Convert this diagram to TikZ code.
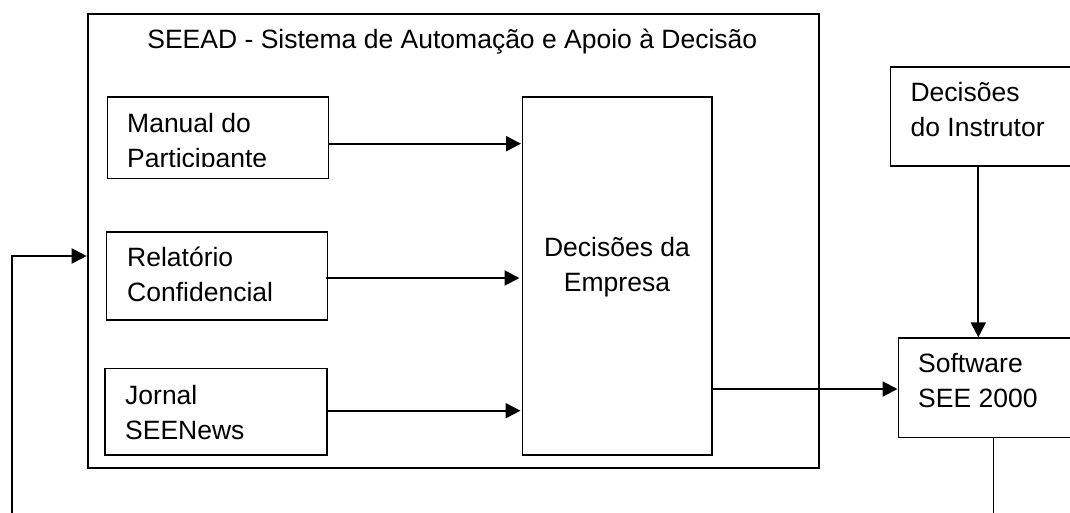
\documentclass[tikz,border=0pt]{standalone}
\usepackage{fontspec}
\setmainfont{Liberation Sans}
\usetikzlibrary{arrows.meta}
\newcommand{\firstline}{\rule{0pt}{20pt}}
\begin{document}
\begin{tikzpicture}[x=1pt,y=-1pt,
 box/.style={draw=black,line width=1.6pt,fill=white,inner sep=0pt,anchor=north west},
 outerbox/.style={box,line width=2pt},
 lbl/.style={font=\fontsize{26.5}{34.8}\selectfont,align=left,anchor=north west,inner sep=0pt},
 arr/.style={draw=black,line width=2.1pt,-{Triangle[length=15pt,width=15pt]}},
 plain/.style={draw=black,line width=1.6pt}]
\useasboundingbox (0,0) rectangle (1070,513);
\node[outerbox,minimum width=731.6pt,minimum height=454pt] (outer) at (86.7,12.7) {};
\node[lbl,anchor=base] (title) at (452.3,48.7) {SEEAD - Sistema de Automação e Apoio à Decisão};
\node[box,minimum width=221pt,minimum height=81.7pt] (manual) at (106.5,96) {};
\node[lbl] (manualt) at (127,112.3) {\firstline Manual do\\Participante};
\fill[white] (109,167.4) rectangle (325,176.4);
\node[box,minimum width=221pt,minimum height=88.3pt] (rel) at (105.5,231) {};
\node[lbl] (relt) at (127,246.7) {\firstline Relatório\\Confidencial};
\node[box,minimum width=221.6pt,minimum height=86.6pt] (jor) at (104.4,367.7) {};
\node[lbl] (jort) at (125,384) {\firstline Jornal\\SEENews};
\node[box,minimum width=189.6pt,minimum height=358.3pt] (emp) at (521.8,96) {};
\node[lbl,align=center,anchor=north] (empt) at (617,236) {\firstline Decisões da\\Empresa};
\node[box,minimum width=200pt,minimum height=99pt] (inst) at (889.6,66) {};
\node[lbl] (instt) at (910.4,81.7) {\firstline Decisões\\do Instrutor};
\node[box,minimum width=200pt,minimum height=99.4pt] (soft) at (897.5,337.3) {};
\node[lbl] (softt) at (918,352.7) {\firstline Software\\SEE 2000};
\coordinate (y1) at (0,143.7);
\coordinate (y2) at (0,278);
\coordinate (y3) at (0,410.7);
\coordinate (y4) at (0,389);
\coordinate (x5) at (978.3,0);
\coordinate (x6) at (993.4,0);
\coordinate (y7) at (0,256);
\coordinate (bottomright) at (993.4,513);
\coordinate (bottomleft) at (11.6,513);
\coordinate (leftturn) at (11.6,256);
\draw[arr] (manual.east |- y1) -- ([xshift=-0.8pt]emp.west |- y1);
\draw[arr] ([xshift=-2.6pt]rel.east |- y2) -- ([xshift=-2.3pt]emp.west |- y2);
\draw[arr] (jor.east |- y3) -- ([xshift=-1.3pt]emp.west |- y3);
\draw[arr] (emp.east |- y4) -- (soft.west |- y4);
\draw[arr] (x5 |- inst.south) -- (x5 |- soft.north);
\draw[plain] (x6 |- soft.south) -- (bottomright);
\draw[arr] (bottomleft) -- (leftturn) -- (outer.west |- y7);
\end{tikzpicture}
\end{document}
